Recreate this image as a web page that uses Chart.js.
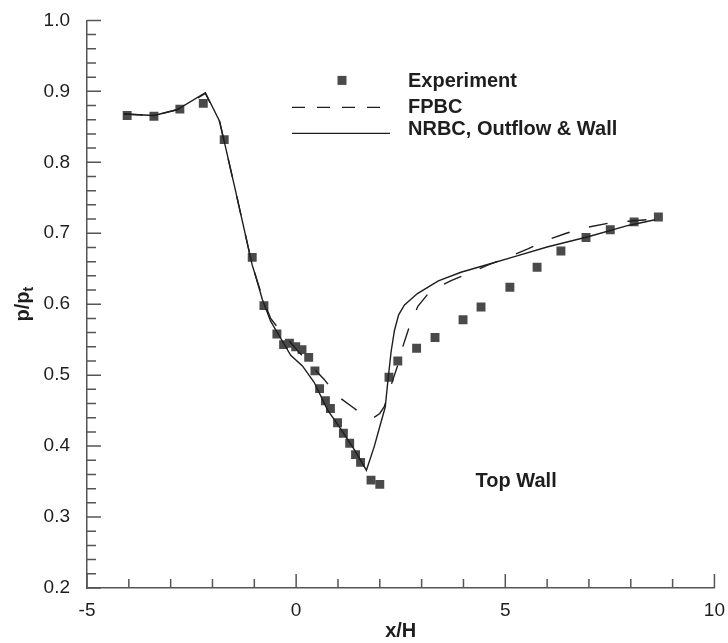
<!DOCTYPE html>
<html lang="en">
<head>
    <meta charset="UTF-8">
    <title>Top Wall pressure ratio</title>
    <script src="https://cdn.jsdelivr.net/npm/chart.js"></script>
    <style>
        body {
            margin: 0;
            padding: 0;
            background-color: #fff;
        }
        .container {
            width: 728px;
            height: 643px;
            position: relative;
        }
    </style>
</head>
<body>
    <div class="container">
        <canvas id="wallChart"></canvas>
    </div>

    <script>
        // Experiment (squares)
        var expX = [-4.04, -3.40, -2.78, -2.22, -1.72, -1.05, -0.77, -0.46, -0.30, -0.16, -0.01, 0.14, 0.30, 0.45,
                    0.56, 0.70, 0.82, 0.99, 1.13, 1.28, 1.42, 1.54, 1.79, 2.00, 2.22, 2.43, 2.88, 3.32, 3.99, 4.42,
                    5.11, 5.76, 6.33, 6.93, 7.51, 8.08, 8.66];
        var expY = [0.866, 0.865, 0.875, 0.883, 0.832, 0.666, 0.598, 0.558, 0.543, 0.545, 0.540, 0.536, 0.525, 0.506,
                    0.481, 0.464, 0.453, 0.433, 0.418, 0.404, 0.388, 0.377, 0.352, 0.346, 0.497, 0.520, 0.538, 0.553,
                    0.578, 0.596, 0.624, 0.652, 0.675, 0.694, 0.705, 0.716, 0.723];

        // FPBC (dashed)
        var fpbcX = [-4.12, -3.40, -2.85, -2.17, -1.83, -1.45, -1.05, -0.81, -0.61, -0.32, 0.00, 0.35, 0.67, 1.00,
                     1.37, 1.60, 1.83, 2.00, 2.11, 2.27, 2.43, 2.56, 2.71, 2.91, 3.20, 3.69, 4.10, 4.62, 5.02,
                     5.54, 5.98, 6.46, 6.92, 7.45, 7.94, 8.58];
        var fpbcY = [0.868, 0.866, 0.874, 0.897, 0.857, 0.760, 0.655, 0.610, 0.580, 0.558, 0.537, 0.514, 0.494, 0.470,
                     0.454, 0.444, 0.439, 0.446, 0.456, 0.486, 0.514, 0.542, 0.569, 0.597, 0.618, 0.633, 0.643, 0.656, 0.665,
                     0.678, 0.690, 0.700, 0.708, 0.714, 0.717, 0.720];

        // NRBC, Outflow & Wall (solid)
        var nrbcX = [-4.12, -3.40, -2.85, -2.17, -1.83, -1.45, -1.05, -0.97, -0.81, -0.61, -0.37, -0.13, 0.15, 0.43,
                     0.75, 1.07, 1.39, 1.68, 1.87, 2.03, 2.13, 2.19, 2.27, 2.35, 2.45, 2.59, 2.90, 3.40, 3.94,
                     4.58, 5.22, 6.02, 6.98, 7.94, 8.58];
        var nrbcY = [0.868, 0.866, 0.874, 0.898, 0.858, 0.760, 0.655, 0.640, 0.607, 0.576, 0.552, 0.528, 0.513, 0.490,
                     0.451, 0.424, 0.395, 0.366, 0.400, 0.434, 0.455, 0.490, 0.533, 0.563, 0.585, 0.599, 0.615, 0.633, 0.645,
                     0.656, 0.667, 0.681, 0.695, 0.711, 0.719];

        var xTicks = [-5, 0, 5, 10];
        var yTicks = [0.2, 0.3, 0.4, 0.5, 0.6, 0.7, 0.8, 0.9, 1.0];

        var font = "'Liberation Sans', Arial, sans-serif";
        var ink = '#1e1e1e';
        var axisColor = '#555';

        function toPoints(xs, ys) {
            return xs.map(function(x, i) { return { x: x, y: ys[i] }; });
        }

        // inward major/minor ticks, y title with subscript, legend, annotation
        var decorPlugin = {
            id: 'decor',
            afterDraw: function(chart) {
                var ctx = chart.ctx;
                var area = chart.chartArea;
                var xs = chart.scales.x, ys = chart.scales.y;
                ctx.save();
                ctx.strokeStyle = axisColor;
                ctx.lineWidth = 1.5;
                ctx.beginPath();
                for (var i = -5; i <= 10; i++) {
                    var px = xs.getPixelForValue(i);
                    var len = xTicks.indexOf(i) !== -1 ? 14 : 9;
                    ctx.moveTo(px, area.bottom);
                    ctx.lineTo(px, area.bottom - len);
                }
                for (var j = 0; j <= 40; j++) {
                    var py = ys.getPixelForValue(0.2 + j * 0.02);
                    var ylen = j % 5 === 0 ? 14 : 9;
                    ctx.moveTo(area.left, py);
                    ctx.lineTo(area.left + ylen, py);
                }
                ctx.stroke();

                // y title p/p_t
                ctx.fillStyle = ink;
                ctx.translate(23, (area.top + area.bottom) / 2);
                ctx.rotate(-Math.PI / 2);
                ctx.font = 'bold 20px ' + font;
                ctx.textBaseline = 'middle';
                var w1 = ctx.measureText('p/p').width;
                ctx.font = 'bold 14px ' + font;
                var w2 = ctx.measureText('t').width;
                var start = -(w1 + w2) / 2;
                ctx.font = 'bold 20px ' + font;
                ctx.textAlign = 'left';
                ctx.fillText('p/p', start, 0);
                ctx.font = 'bold 14px ' + font;
                ctx.fillText('t', start + w1, 6);
                ctx.setTransform(1, 0, 0, 1, 0, 0);

                // legend
                var lx = area.left + 205, tx = area.left + 321;
                ctx.font = 'bold 20px ' + font;
                ctx.textAlign = 'left';
                ctx.textBaseline = 'middle';
                var expSet = chart.data.datasets[2];
                ctx.fillStyle = expSet.backgroundColor;
                ctx.fillRect(area.left + 250.5, area.top + 55.5, 9, 9);
                ctx.fillStyle = ink;
                ctx.fillText('Experiment', tx, area.top + 61);

                ctx.strokeStyle = ink;
                ctx.lineWidth = 1.4;
                ctx.setLineDash([13, 12]);
                ctx.beginPath();
                ctx.moveTo(lx, area.top + 87);
                ctx.lineTo(lx + 96, area.top + 87);
                ctx.stroke();
                ctx.fillText('FPBC', tx, area.top + 87);

                ctx.setLineDash([]);
                ctx.beginPath();
                ctx.moveTo(lx, area.top + 113);
                ctx.lineTo(lx + 98, area.top + 113);
                ctx.stroke();
                ctx.fillText('NRBC, Outflow & Wall', tx, area.top + 109);

                // annotation
                ctx.fillText('Top Wall', xs.getPixelForValue(4.29), ys.getPixelForValue(0.350));
                ctx.restore();
            }
        };

        var ctx = document.getElementById('wallChart').getContext('2d');
        var wallChart = new Chart(ctx, {
            type: 'scatter',
            data: {
                datasets: [{
                    label: 'NRBC, Outflow & Wall',
                    data: toPoints(nrbcX, nrbcY),
                    showLine: true,
                    borderColor: ink,
                    borderWidth: 1.4,
                    pointRadius: 0,
                    tension: 0,
                    order: 1
                }, {
                    label: 'FPBC',
                    data: toPoints(fpbcX, fpbcY),
                    showLine: true,
                    borderColor: ink,
                    borderWidth: 1.4,
                    borderDash: [19, 20],
                    pointRadius: 0,
                    tension: 0,
                    order: 2
                }, {
                    label: 'Experiment',
                    data: toPoints(expX, expY),
                    showLine: false,
                    pointStyle: 'rect',
                    pointRadius: 6.3,
                    backgroundColor: '#4a4a4a',
                    borderWidth: 0,
                    order: 3
                }]
            },
            options: {
                responsive: true,
                maintainAspectRatio: false,
                animation: false,
                devicePixelRatio: 1,
                layout: { padding: { top: 15, right: 10, left: 0, bottom: 0 } },
                plugins: {
                    legend: { display: false },
                    tooltip: { enabled: false }
                },
                scales: {
                    x: {
                        type: 'linear',
                        min: -5,
                        max: 10,
                        afterBuildTicks: function(scale) {
                            scale.ticks = xTicks.map(function(v) { return { value: v }; });
                        },
                        afterFit: function(scale) { scale.height = 55; },
                        grid: { display: false },
                        border: { display: true, color: axisColor, width: 1.5 },
                        ticks: {
                            color: ink,
                            padding: 3,
                            maxRotation: 0,
                            font: { family: font, size: 19 }
                        },
                        title: {
                            display: true,
                            text: 'x/H',
                            color: ink,
                            padding: { top: 0, bottom: 0 },
                            font: { family: font, size: 20, weight: 'bold' }
                        }
                    },
                    y: {
                        type: 'linear',
                        min: 0.2,
                        max: 1.0,
                        afterBuildTicks: function(scale) {
                            scale.ticks = yTicks.map(function(v) { return { value: v }; });
                        },
                        afterFit: function(scale) { scale.width = 87; },
                        grid: { display: false },
                        border: { display: true, color: axisColor, width: 1.5 },
                        ticks: {
                            color: ink,
                            padding: 9,
                            font: { family: font, size: 19 },
                            callback: function(v) { return Number(v).toFixed(1); }
                        }
                    }
                }
            },
            plugins: [decorPlugin]
        });
    </script>
</body>
</html>
